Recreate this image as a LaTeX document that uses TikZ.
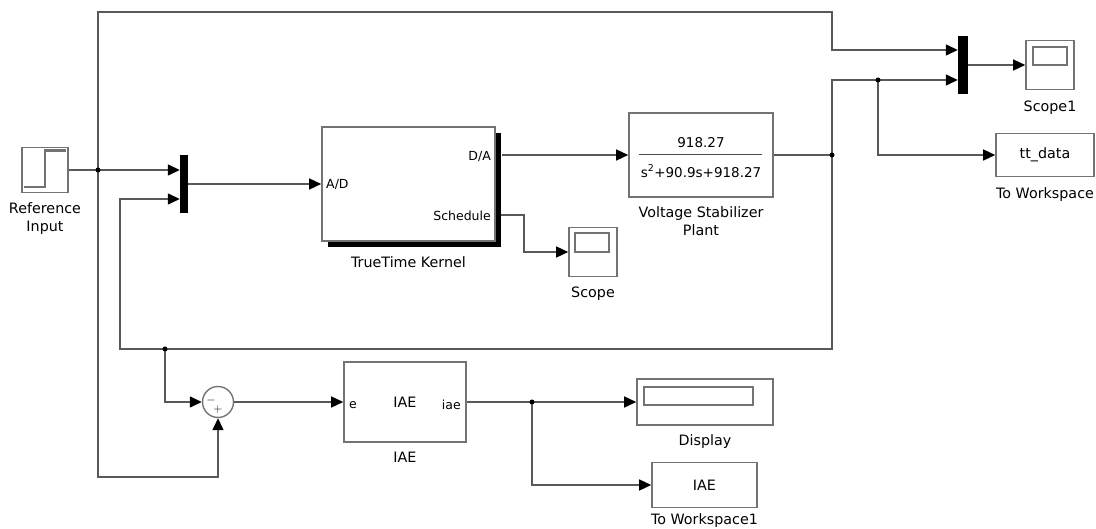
\documentclass[tikz,border=0pt]{standalone}
\usepackage{fontspec}
\setmainfont{DejaVu Sans}
\usetikzlibrary{positioning,arrows.meta,shadows}

\begin{document}
\begin{tikzpicture}[
    x=1pt, y=-1pt,
    >={Triangle[length=12pt,width=11pt,color=black]},
    every node/.style={font=\fontsize{14.3}{18}\selectfont},
    bloc/.style={draw=black!55, line width=1.6pt, fill=white, inner sep=0pt},
    mux/.style={fill=black, minimum width=8pt, minimum height=58pt, inner sep=0pt},
    fil/.style={draw=black!65, line width=1.4pt},
    lbl/.style={align=center, inner sep=1pt},
    port/.style={inner sep=1pt, font=\fontsize{12.5}{15}\selectfont},
    point/.style={circle, fill=black, inner sep=0pt, minimum size=5pt},
    icone/.style={draw=black!55, line width=1.2pt}
]
\useasboundingbox (0,0) rectangle (1096,529);

% Blocs
\node[bloc, minimum width=46pt, minimum height=45pt] (reference) at (45,170) {};
\node[mux] (muxa) at (184,184) {};
\node[bloc, minimum width=173pt, minimum height=114pt,
      drop shadow={shadow xshift=6pt, shadow yshift=-6pt, fill=black, opacity=1}] (kernel) at (408.5,184) {};
\node[bloc, minimum width=144pt, minimum height=84pt] (plant) at (701,155) {};
\node[bloc, minimum width=48pt, minimum height=49pt] (scope) at (593,252) {};
\node[mux, minimum width=10pt] (muxb) at (963,65) {};
\node[bloc, minimum width=48pt, minimum height=49pt] (scopeb) at (1050,65) {};
\node[bloc, minimum width=98pt, minimum height=43pt] (ttdata) at (1045,155) {tt\_data};
\node[circle, draw=black!55, line width=1.4pt, minimum size=31pt, inner sep=0pt] (somme) at (218,402) {};
\node[bloc, minimum width=122pt, minimum height=80pt] (iae) at (405,402) {IAE};
\node[bloc, minimum width=136pt, minimum height=46pt] (display) at (705,402) {};
\node[bloc, minimum width=105pt, minimum height=45pt] (workspace) at (704.5,485) {IAE};

% Icones
\draw[icone] (24,187) -- (45,187) -- (45,150) -- (66,150);
\draw[black!55, line width=2.5pt] (45,150.5) -- (66,150.5);
\draw[icone] (575,233) rectangle (609,252);
\draw[icone] (1033,47) rectangle (1067,65);
\draw[icone] (644,387) rectangle (753,405);

% Textes des blocs
\node[port, anchor=west] at (325,185) {A/D};
\node[port, anchor=east] at (492,157) {D/A};
\node[port, anchor=east] at (492,216) {Schedule};
\node[font=\fontsize{13.5}{18}\selectfont] at (701,143) {918.27};
\draw[black!70, line width=1pt] (639,155) -- (762,155);
\node[font=\fontsize{13.5}{18}\selectfont] at (701,171) {s\textsuperscript{2}+90.9s+918.27};
\node[inner sep=0pt, font=\fontsize{12}{12}\selectfont] at (211,401) {$-$};
\node[inner sep=0pt, font=\fontsize{12}{12}\selectfont] at (218,410) {$+$};
\node[port, anchor=west] at (348,405) {e};
\node[port, anchor=east] at (462,405) {iae};

% Etiquettes
\node[lbl, below=8pt of reference] {Reference\\Input};
\node[lbl, below=14pt of kernel] {TrueTime Kernel};
\node[lbl, below=8pt of plant] {Voltage Stabilizer\\Plant};
\node[lbl, below=8pt of scope] {Scope};
\node[lbl, below=9pt of scopeb] {Scope1};
\node[lbl, below=9pt of ttdata] {To Workspace};
\node[lbl, below=8pt of iae] {IAE};
\node[lbl, below=8pt of display] {Display};
\node[lbl, below=4pt of workspace] {To Workspace1};

% Points de jonction
\coordinate (muxa-in1) at ([yshift=14pt]muxa.west);
\coordinate (muxa-in2) at ([yshift=-15pt]muxa.west);
\coordinate (muxb-in1) at ([yshift=15pt]muxb.west);
\coordinate (muxb-in2) at ([yshift=-15pt]muxb.west);
\coordinate (sched) at (501,215);
\coordinate (j1) at (98,170);
\coordinate (j2) at (832,155);
\coordinate (j3) at (878,80);
\coordinate (j4) at (165,349);
\coordinate (j5) at (532,402);

% Liens
\draw[fil, ->] (reference.east) -- (muxa-in1);
\draw[fil, ->] (j1) -- (98,12) -| (832,50) -- (muxb-in1);
\draw[fil, ->] (j1) -- (98,477) -| (somme.south);
\draw[fil, ->] (muxa.east) -- (kernel.west);
\draw[fil, ->] ([xshift=6pt]kernel.east |- plant.west) -- (plant.west);
\draw[fil, ->] (sched) -- (524,215) |- (scope.west);
\draw[fil] (plant.east) -- (j2);
\draw[fil, ->] (j2) -- (832,80) -- (muxb-in2);
\draw[fil, ->] (j2) -- (832,349) -| (120,199) -- (muxa-in2);
\draw[fil, ->] (j3) |- (ttdata.west);
\draw[fil, ->] (muxb.east) -- (scopeb.west);
\draw[fil, ->] (j4) |- (somme.west);
\draw[fil, ->] (somme.east) -- (iae.west);
\draw[fil] (iae.east) -- (j5);
\draw[fil, ->] (j5) -- (display.west);
\draw[fil, ->] (j5) |- (workspace.west);

\foreach \j in {j1,j2,j3,j4,j5}
    \node[point] at (\j) {};

\end{tikzpicture}
\end{document}
